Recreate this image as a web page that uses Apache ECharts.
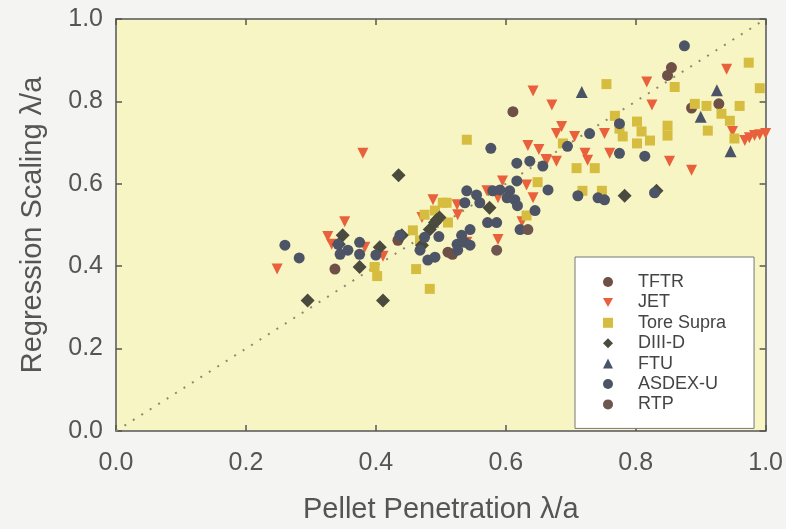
<!DOCTYPE html>
<html>
<head>
<meta charset="utf-8">
<script src="https://cdn.jsdelivr.net/npm/echarts@6/dist/echarts.min.js"></script>
<style>
  html, body { margin: 0; padding: 0; background: #f4f4f2; }
  #chart { width: 786px; height: 529px; }
</style>
</head>
<body>
<div id="chart"></div>
<script>
// pellet penetration (x) vs regression scaling (y)
const tftr = [[0.337,0.393],[0.434,0.463],[0.511,0.434],[0.518,0.429],[0.611,0.775],[0.855,0.882],[0.849,0.863],[0.886,0.784],[0.928,0.794]];
const jet = [[0.248,0.393],[0.352,0.508],[0.326,0.472],[0.332,0.453],[0.383,0.446],[0.411,0.424],[0.380,0.674],
  [0.471,0.518],[0.488,0.561],[0.525,0.549],[0.526,0.525],[0.540,0.458],[0.571,0.583],[0.588,0.566],[0.595,0.607],
  [0.632,0.597],[0.642,0.566],[0.625,0.508],[0.588,0.465],[0.642,0.825],[0.671,0.791],[0.634,0.693],[0.651,0.683],
  [0.662,0.659],[0.678,0.722],[0.663,0.657],[0.678,0.655],[0.686,0.739],[0.706,0.715],[0.752,0.722],[0.722,0.674],
  [0.726,0.657],[0.760,0.674],[0.817,0.847],[0.825,0.791],[0.940,0.878],[0.852,0.655],[0.886,0.633],[0.949,0.727],
  [0.968,0.705],[0.975,0.712],[0.983,0.717],[0.991,0.719],[1.0,0.722]];
const toreSupra = [[0.398,0.398],[0.402,0.376],[0.457,0.487],[0.462,0.393],[0.483,0.345],[0.503,0.554],[0.475,0.525],
  [0.491,0.535],[0.511,0.506],[0.509,0.554],[0.540,0.707],[0.649,0.604],[0.632,0.523],[0.688,0.698],[0.709,0.638],
  [0.737,0.638],[0.718,0.583],[0.748,0.583],[0.755,0.842],[0.768,0.765],[0.775,0.734],[0.802,0.751],[0.809,0.727],
  [0.822,0.705],[0.802,0.698],[0.780,0.715],[0.860,0.835],[0.974,0.894],[0.991,0.832],[0.891,0.794],[0.909,0.789],
  [0.960,0.789],[0.932,0.770],[0.945,0.753],[0.911,0.729],[0.952,0.710],[0.849,0.741],[0.849,0.717],[0.468,0.463]];
const diiid = [[0.295,0.317],[0.349,0.475],[0.343,0.453],[0.375,0.398],[0.406,0.446],[0.411,0.317],[0.440,0.475],
  [0.435,0.621],[0.494,0.513],[0.483,0.489],[0.471,0.451],[0.498,0.518],[0.491,0.506],[0.575,0.542],[0.783,0.571],[0.832,0.583]];
const ftu = [[0.717,0.823],[0.925,0.827],[0.900,0.763],[0.946,0.679]];
const asdexU = [[0.260,0.451],[0.282,0.420],[0.342,0.453],[0.345,0.429],[0.357,0.439],[0.375,0.458],[0.375,0.429],
  [0.400,0.427],[0.437,0.475],[0.475,0.470],[0.497,0.472],[0.468,0.439],[0.480,0.415],[0.491,0.422],[0.545,0.489],
  [0.532,0.475],[0.525,0.453],[0.537,0.458],[0.545,0.451],[0.526,0.439],[0.537,0.554],[0.540,0.583],[0.555,0.573],
  [0.560,0.554],[0.580,0.583],[0.591,0.585],[0.606,0.583],[0.602,0.566],[0.614,0.561],[0.572,0.506],[0.586,0.506],
  [0.617,0.607],[0.618,0.547],[0.645,0.535],[0.622,0.489],[0.617,0.650],[0.637,0.655],[0.657,0.643],[0.665,0.585],
  [0.577,0.686],[0.695,0.691],[0.729,0.722],[0.775,0.746],[0.775,0.674],[0.814,0.667],[0.711,0.571],[0.742,0.566],
  [0.752,0.561],[0.829,0.578],[0.875,0.935]];
const rtp = [[0.586,0.439],[0.634,0.489]];
const diagonal = [[0,0],[1,1]];

const chart = echarts.init(document.getElementById('chart'));
const axisCol = '#555';
const fontFam = '"Liberation Sans", Arial, sans-serif';

function valAxis(extra) {
  return Object.assign({
    type: 'value', min: 0, max: 1, interval: 0.2,
    axisLine: { show: true, onZero: false, lineStyle: { color: axisCol, width: 1.5 } },
    axisTick: { show: true, inside: true, length: 6, lineStyle: { color: axisCol, width: 1.5 } },
    splitLine: { show: false },
    axisLabel: { show: false }
  }, extra);
}

const tickLabel = (margin) => ({ color: '#555', fontSize: 25, fontFamily: fontFam, margin: margin, formatter: v => v.toFixed(1) });
const titleStyle = { color: '#555', fontSize: 29, fontFamily: fontFam };
const triDown = 'path://M0,0 L10,0 L5,9 Z';

function sc(name, data, symbol, color, size) {
  return { name: name, type: 'scatter', data: data, symbol: symbol, symbolSize: size,
    itemStyle: { color: color, opacity: 1 }, z: 3 };
}

chart.setOption({
  animation: false,
  backgroundColor: '#f4f4f2',
  grid: { left: 116, right: 20, top: 19, bottom: 93, show: true, backgroundColor: '#f8f5c4', borderWidth: 0 },
  xAxis: [
    valAxis({ position: 'bottom', name: 'Pellet Penetration λ/a', nameLocation: 'middle', nameGap: 64,
      nameTextStyle: titleStyle, axisLabel: tickLabel(20) }),
    valAxis({ position: 'top' })
  ],
  yAxis: [
    valAxis({ position: 'left', name: 'Regression Scaling λ/a', nameLocation: 'middle', nameGap: 69,
      nameTextStyle: titleStyle, axisLabel: tickLabel(13) }),
    valAxis({ position: 'right' })
  ],
  legend: {
    orient: 'vertical', left: 575, top: 257,
    backgroundColor: '#ffffff', borderColor: '#777', borderWidth: 1,
    padding: [16, 28, 15, 28],
    itemWidth: 10, itemHeight: 10, itemGap: 2.4,
    textStyle: { color: '#444', fontSize: 18, lineHeight: 18, fontFamily: fontFam, padding: [0, 0, 0, 20] },
    data: ['TFTR', 'JET', 'Tore Supra', 'DIII-D', 'FTU', 'ASDEX-U', 'RTP']
  },
  series: [
    { name: 'diag', type: 'line', data: diagonal, symbol: 'none', silent: true, z: 1,
      lineStyle: { color: '#8a8a70', width: 2, type: [2, 8] } },
    sc('TFTR', tftr, 'circle', '#6e5046', 11),
    sc('JET', jet, triDown, '#e8603c', 11),
    sc('Tore Supra', toreSupra, 'rect', '#d6bd40', 10),
    sc('DIII-D', diiid, 'diamond', '#4a4a3e', 14),
    sc('FTU', ftu, 'triangle', '#4a5466', 12),
    sc('ASDEX-U', asdexU, 'circle', '#4c5466', 11),
    sc('RTP', rtp, 'circle', '#6e5650', 11)
  ]
});
</script>
</body>
</html>
